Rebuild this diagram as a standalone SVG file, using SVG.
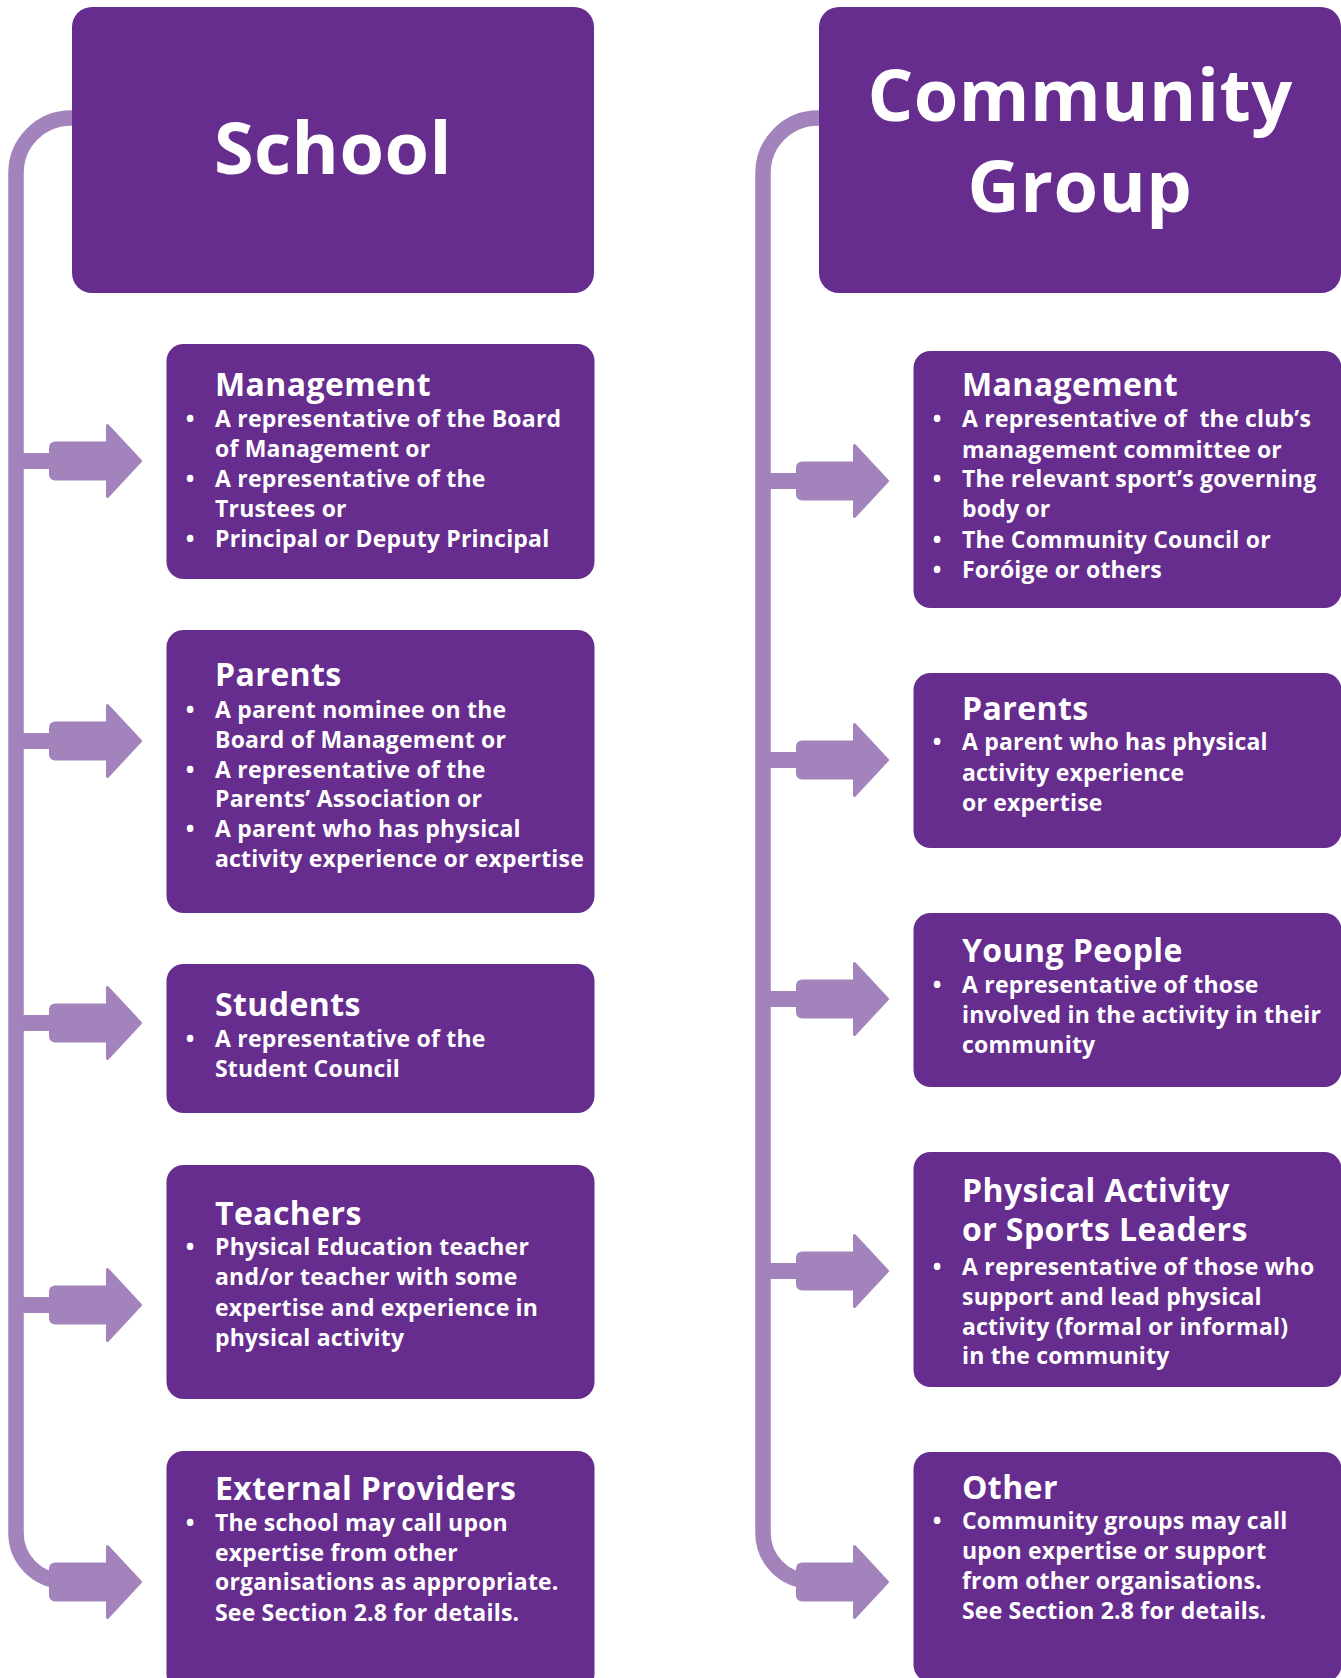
<svg xmlns="http://www.w3.org/2000/svg" width="1341" height="1678" viewBox="0 0 1341 1678">
<style>
.box{fill:#662d8e}
.t{font-family:"Open Sans",Lato,"Liberation Sans",sans-serif;font-weight:700;fill:#ffffff}
.big{font-size:72px;text-anchor:middle;letter-spacing:0.5px}
.h{font-size:32px;letter-spacing:0.4px}
.b{font-size:23px;letter-spacing:0.2px}
.bu{font-size:23px;text-anchor:middle}
.trunk{fill:none;stroke:#a283bb;stroke-width:15.5}
.conn{fill:#a283bb}
</style>
<defs>
<g id="arr">
<rect x="0" y="-19.5" width="62" height="39" rx="6"/>
<polygon points="58.5,-35.5 91.5,0 58.5,35.5" stroke="#a283bb" stroke-width="3" stroke-linejoin="round"/>
</g>
</defs>
<rect width="1341" height="1678" fill="#ffffff"/>
<g id="connectors" class="conn">
<path class="trunk" d="M80 118 H71 A55 55 0 0 0 16 173 V1533 A48 48 0 0 0 64 1581"/>
<path class="trunk" d="M827 118 H818 A55 55 0 0 0 763 173 V1533 A48 48 0 0 0 811 1581"/>
<rect x="16" y="453" width="40" height="16"/>
<rect x="16" y="733" width="40" height="16"/>
<rect x="16" y="1015" width="40" height="16"/>
<rect x="16" y="1297" width="40" height="16"/>
<rect x="763" y="473" width="40" height="16"/>
<rect x="763" y="752" width="40" height="16"/>
<rect x="763" y="991" width="40" height="16"/>
<rect x="763" y="1263" width="40" height="16"/>
<use href="#arr" transform="translate(49,461)"/>
<use href="#arr" transform="translate(49,741)"/>
<use href="#arr" transform="translate(49,1023)"/>
<use href="#arr" transform="translate(49,1305)"/>
<use href="#arr" transform="translate(49,1582)"/>
<use href="#arr" transform="translate(796,481)"/>
<use href="#arr" transform="translate(796,760)"/>
<use href="#arr" transform="translate(796,999)"/>
<use href="#arr" transform="translate(796,1271)"/>
<use href="#arr" transform="translate(796,1582)"/>
</g>
<g id="school-header">
<rect class="box" x="72" y="7" width="522" height="286" rx="20"/>
<text class="t big" x="333" y="174">School</text>
</g>
<g id="school-management">
<rect class="box" x="166.5" y="344" width="428" height="235" rx="17"/>
<text class="t h" x="215" y="396">Management</text>
<text class="t bu" x="190" y="427">•</text>
<text class="t bu" x="190" y="487">•</text>
<text class="t bu" x="190" y="547">•</text>
<text class="t b" x="215" y="427">A representative of the Board</text>
<text class="t b" x="215" y="457">of Management or</text>
<text class="t b" x="215" y="487">A representative of the</text>
<text class="t b" x="215" y="517">Trustees or</text>
<text class="t b" x="215" y="547">Principal or Deputy Principal</text>
</g>
<g id="school-parents">
<rect class="box" x="166.5" y="630" width="428" height="283" rx="17"/>
<text class="t h" x="215" y="686">Parents</text>
<text class="t bu" x="190" y="718">•</text>
<text class="t bu" x="190" y="778">•</text>
<text class="t bu" x="190" y="837">•</text>
<text class="t b" x="215" y="718">A parent nominee on the</text>
<text class="t b" x="215" y="748">Board of Management or</text>
<text class="t b" x="215" y="778">A representative of the</text>
<text class="t b" x="215" y="807">Parents’ Association or</text>
<text class="t b" x="215" y="837">A parent who has physical</text>
<text class="t b" x="215" y="867">activity experience or expertise</text>
</g>
<g id="school-students">
<rect class="box" x="166.5" y="964" width="428" height="149" rx="17"/>
<text class="t h" x="215" y="1016">Students</text>
<text class="t bu" x="190" y="1047">•</text>
<text class="t b" x="215" y="1047">A representative of the</text>
<text class="t b" x="215" y="1077">Student Council</text>
</g>
<g id="school-teachers">
<rect class="box" x="166.5" y="1165" width="428" height="234" rx="17"/>
<text class="t h" x="215" y="1225">Teachers</text>
<text class="t bu" x="190" y="1255">•</text>
<text class="t b" x="215" y="1255">Physical Education teacher</text>
<text class="t b" x="215" y="1285">and/or teacher with some</text>
<text class="t b" x="215" y="1316">expertise and experience in</text>
<text class="t b" x="215" y="1346">physical activity</text>
</g>
<g id="school-external">
<rect class="box" x="166.5" y="1451" width="428" height="240" rx="17"/>
<text class="t h" x="215" y="1500">External Providers</text>
<text class="t bu" x="190" y="1531">•</text>
<text class="t b" x="215" y="1531">The school may call upon</text>
<text class="t b" x="215" y="1561">expertise from other</text>
<text class="t b" x="215" y="1590">organisations as appropriate.</text>
<text class="t b" x="215" y="1621">See Section 2.8 for details.</text>
</g>
<g id="community-header">
<rect class="box" x="819" y="7" width="522" height="286" rx="20"/>
<text class="t big" x="1080" y="121">Community</text>
<text class="t big" x="1080" y="212">Group</text>
</g>
<g id="community-management">
<rect class="box" x="913.5" y="351" width="428" height="257" rx="17"/>
<text class="t h" x="962" y="396">Management</text>
<text class="t bu" x="937" y="427">•</text>
<text class="t bu" x="937" y="487">•</text>
<text class="t bu" x="937" y="548">•</text>
<text class="t bu" x="937" y="578">•</text>
<text class="t b" x="962" y="427" xml:space="preserve">A representative of  the club’s</text>
<text class="t b" x="962" y="458">management committee or</text>
<text class="t b" x="962" y="487">The relevant sport’s governing</text>
<text class="t b" x="962" y="517">body or</text>
<text class="t b" x="962" y="548">The Community Council or</text>
<text class="t b" x="962" y="578">Foróige or others</text>
</g>
<g id="community-parents">
<rect class="box" x="913.5" y="673" width="428" height="175" rx="17"/>
<text class="t h" x="962" y="720">Parents</text>
<text class="t bu" x="937" y="750">•</text>
<text class="t b" x="962" y="750">A parent who has physical</text>
<text class="t b" x="962" y="781">activity experience</text>
<text class="t b" x="962" y="811">or expertise</text>
</g>
<g id="community-young">
<rect class="box" x="913.5" y="913" width="428" height="174" rx="17"/>
<text class="t h" x="962" y="962">Young People</text>
<text class="t bu" x="937" y="993">•</text>
<text class="t b" x="962" y="993">A representative of those</text>
<text class="t b" x="962" y="1023">involved in the activity in their</text>
<text class="t b" x="962" y="1053">community</text>
</g>
<g id="community-leaders">
<rect class="box" x="913.5" y="1152" width="428" height="235" rx="17"/>
<text class="t h" x="962" y="1202">Physical Activity</text>
<text class="t h" x="962" y="1241">or Sports Leaders</text>
<text class="t bu" x="937" y="1275">•</text>
<text class="t b" x="962" y="1275">A representative of those who</text>
<text class="t b" x="962" y="1305">support and lead physical</text>
<text class="t b" x="962" y="1335">activity (formal or informal)</text>
<text class="t b" x="962" y="1364">in the community</text>
</g>
<g id="community-other">
<rect class="box" x="913.5" y="1452" width="428" height="230" rx="17"/>
<text class="t h" x="962" y="1499">Other</text>
<text class="t bu" x="937" y="1529">•</text>
<text class="t b" x="962" y="1529">Community groups may call</text>
<text class="t b" x="962" y="1559">upon expertise or support</text>
<text class="t b" x="962" y="1589">from other organisations.</text>
<text class="t b" x="962" y="1619">See Section 2.8 for details.</text>
</g>
</svg>
